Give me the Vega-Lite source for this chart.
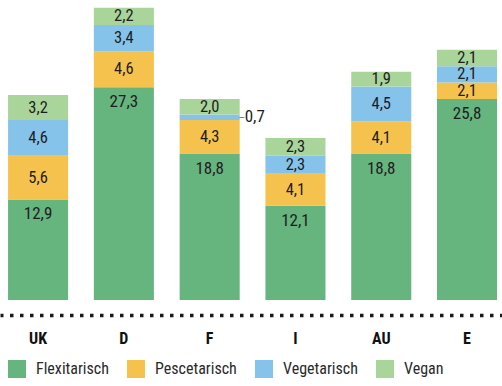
{
  "$schema": "https://vega.github.io/schema/vega-lite/v6.json",
  "width": 502,
  "height": 300,
  "autosize": {"type": "none"},
  "padding": {"left": 0, "top": 0, "right": 0, "bottom": 86},
  "background": "white",
  "data": {
    "values": [
      {"country": "UK", "type": "Flexitarisch", "order": 1, "value": 12.9},
      {"country": "UK", "type": "Pescetarisch", "order": 2, "value": 5.6},
      {"country": "UK", "type": "Vegetarisch", "order": 3, "value": 4.6},
      {"country": "UK", "type": "Vegan", "order": 4, "value": 3.2},
      {"country": "D", "type": "Flexitarisch", "order": 1, "value": 27.3},
      {"country": "D", "type": "Pescetarisch", "order": 2, "value": 4.6},
      {"country": "D", "type": "Vegetarisch", "order": 3, "value": 3.4},
      {"country": "D", "type": "Vegan", "order": 4, "value": 2.2},
      {"country": "F", "type": "Flexitarisch", "order": 1, "value": 18.8},
      {"country": "F", "type": "Pescetarisch", "order": 2, "value": 4.3},
      {"country": "F", "type": "Vegetarisch", "order": 3, "value": 0.7},
      {"country": "F", "type": "Vegan", "order": 4, "value": 2.0},
      {"country": "I", "type": "Flexitarisch", "order": 1, "value": 12.1},
      {"country": "I", "type": "Pescetarisch", "order": 2, "value": 4.1},
      {"country": "I", "type": "Vegetarisch", "order": 3, "value": 2.3},
      {"country": "I", "type": "Vegan", "order": 4, "value": 2.3},
      {"country": "AU", "type": "Flexitarisch", "order": 1, "value": 18.8},
      {"country": "AU", "type": "Pescetarisch", "order": 2, "value": 4.1},
      {"country": "AU", "type": "Vegetarisch", "order": 3, "value": 4.5},
      {"country": "AU", "type": "Vegan", "order": 4, "value": 1.9},
      {"country": "E", "type": "Flexitarisch", "order": 1, "value": 25.8},
      {"country": "E", "type": "Pescetarisch", "order": 2, "value": 2.1},
      {"country": "E", "type": "Vegetarisch", "order": 3, "value": 2.1},
      {"country": "E", "type": "Vegan", "order": 4, "value": 2.1}
    ]
  },
  "transform": [
    {"stack": "value", "groupby": ["country"], "sort": [{"field": "order", "order": "ascending"}], "as": ["y0", "y1"]},
    {"calculate": "(datum.y0 + datum.y1) / 2", "as": "mid"},
    {"calculate": "replace(format(datum.value, '.1f'), '.', ',')", "as": "label"}
  ],
  "encoding": {
    "x": {
      "field": "country",
      "type": "nominal",
      "sort": ["UK", "D", "F", "I", "AU", "E"],
      "scale": {"paddingInner": 0.3, "paddingOuter": 0.0757, "align": 0.62},
      "axis": {
        "title": null,
        "ticks": false,
        "labelAngle": 0,
        "offset": 15,
        "domainDash": [3.5, 6.5],
        "domainDashOffset": 0.5,
        "domainWidth": 3.5,
        "domainColor": "#1a1a1a",
        "labelFont": "Liberation Sans Narrow, Roboto Condensed, Arial Narrow, Roboto, sans-serif",
        "labelFontWeight": "bold",
        "labelFontSize": 16,
        "labelColor": "#111111",
        "labelBaseline": "alphabetic",
        "labelPadding": 28
      }
    }
  },
  "layer": [
    {
      "mark": {"type": "bar"},
      "encoding": {
        "y": {"field": "y1", "type": "quantitative", "scale": {"domain": [0, 38.5], "nice": false}, "axis": null},
        "y2": {"field": "y0"},
        "color": {
          "field": "type",
          "type": "nominal",
          "scale": {
            "domain": ["Flexitarisch", "Pescetarisch", "Vegetarisch", "Vegan"],
            "range": ["#66b47e", "#f6c24e", "#86c3ea", "#a9d59b"]
          },
          "legend": {
            "title": null,
            "orient": "none",
            "legendX": 8,
            "legendY": 360,
            "direction": "horizontal",
            "symbolType": "square",
            "symbolSize": 324,
            "symbolStrokeWidth": 0,
            "symbolOpacity": 1,
            "labelFont": "Liberation Sans Narrow, Roboto Condensed, Arial Narrow, Roboto, sans-serif",
            "labelFontSize": 16,
            "labelColor": "#2a2a2a",
            "labelOffset": 10,
            "columnPadding": 18
          }
        }
      }
    },
    {
      "transform": [{"filter": "datum.type == 'Flexitarisch'"}],
      "mark": {"type": "text", "dy": 15, "fontSize": 17, "color": "#1e1e1e", "font": "Liberation Sans Narrow, Roboto Condensed, Arial Narrow, Roboto, sans-serif", "baseline": "middle"},
      "encoding": {
        "y": {"field": "y1", "type": "quantitative"},
        "text": {"field": "label"}
      }
    },
    {
      "transform": [{"filter": "datum.type != 'Flexitarisch' && datum.value >= 1"}],
      "mark": {"type": "text", "fontSize": 16.5, "color": "#1e1e1e", "font": "Liberation Sans Narrow, Roboto Condensed, Arial Narrow, Roboto, sans-serif", "baseline": "middle"},
      "encoding": {
        "y": {"field": "mid", "type": "quantitative"},
        "text": {"field": "label"}
      }
    },
    {
      "transform": [{"filter": "datum.value < 1"}],
      "mark": {"type": "text", "align": "left", "dx": 35, "fontSize": 17, "color": "#1e1e1e", "font": "Liberation Sans Narrow, Roboto Condensed, Arial Narrow, Roboto, sans-serif", "baseline": "middle"},
      "encoding": {
        "y": {"field": "mid", "type": "quantitative"},
        "text": {"field": "label"}
      }
    },
    {
      "transform": [{"filter": "datum.value < 1"}],
      "mark": {"type": "text", "align": "left", "dx": 29, "fontSize": 12, "color": "#6a7a88", "font": "DejaVu Sans", "baseline": "middle", "text": "–"},
      "encoding": {
        "y": {"field": "mid", "type": "quantitative"}
      }
    }
  ],
  "config": {
    "view": {"stroke": null},
    "legend": {"padding": 0}
  }
}
